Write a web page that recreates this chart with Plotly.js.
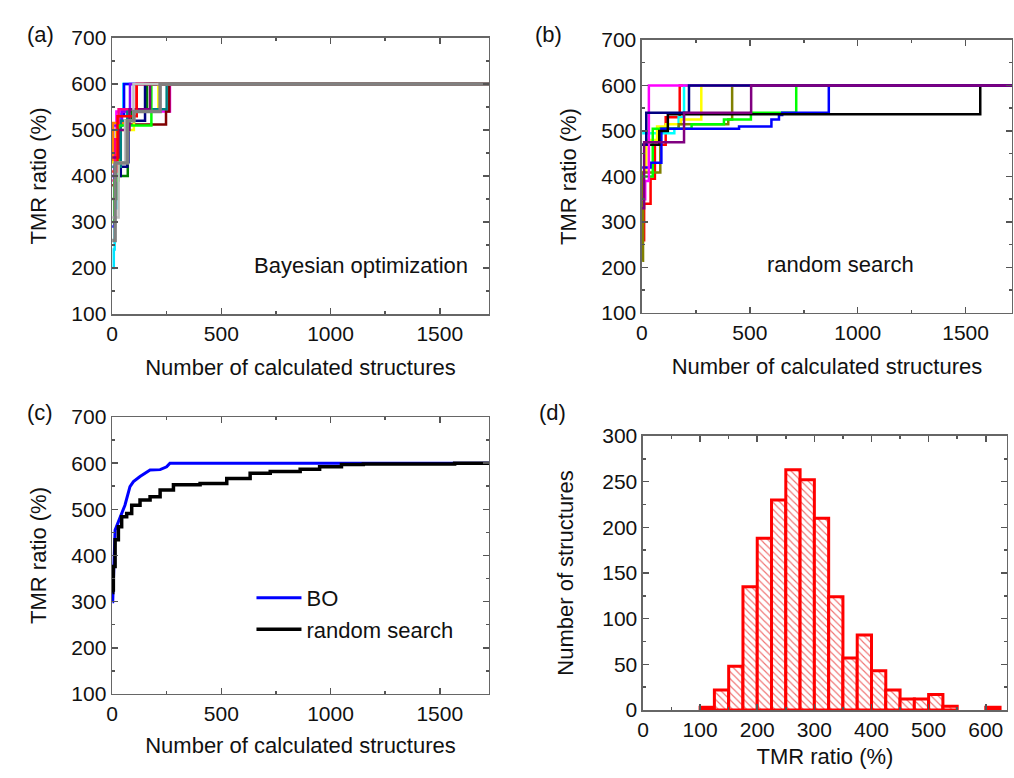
<!DOCTYPE html>
<html>
<head>
<meta charset="utf-8">
<script src="https://cdn.plot.ly/plotly-3.0.1.min.js"></script>
<style>html,body{margin:0;padding:0;background:#fff;}#chart{width:1014px;height:778px;}</style>
</head>
<body>
<div id="chart"></div>
<script>
// ---------- Panel (a): Bayesian optimization runs (best TMR so far) ----------
const boColors = ['#00e5ff','#0000ff','#ff00ff','#8000ff','#ff8000','#800000','#008000','#000080',
                  '#ffff00','#008080','#ff0080','#00ff00','#800080','#ff0000','#c0c0c0','#808080'];
const boX = [
  [1, 8, 12, 20, 35, 52, 1725],
  [1, 10, 25, 45, 55, 1725],
  [1, 12, 20, 265, 1725],
  [1, 5, 45, 82, 1725],
  [1, 4, 75, 113, 1725],
  [1, 15, 70, 247, 262, 1725],
  [1, 20, 72, 90, 160, 1725],
  [1, 40, 70, 75, 151, 1725],
  [1, 20, 100, 212, 1725],
  [1, 40, 70, 250, 1725],
  [1, 15, 30, 113, 1725],
  [1, 10, 30, 180, 1725],
  [1, 30, 80, 174, 1725],
  [1, 25, 113, 1725],
  [1, 30, 60, 98, 1725],
  [1, 14, 70, 100, 220, 1725]
];
const boY = [
  [200, 240, 330, 430, 540, 600, 600],
  [290, 420, 510, 535, 600, 600],
  [400, 480, 540, 600, 600],
  [450, 510, 540, 600, 600],
  [430, 515, 545, 600, 600],
  [380, 430, 512, 540, 600, 600],
  [350, 400, 520, 540, 600, 600],
  [400, 420, 430, 520, 600, 600],
  [430, 500, 540, 600, 600],
  [420, 520, 545, 600, 600],
  [390, 480, 545, 600, 600],
  [300, 390, 510, 600, 600],
  [440, 500, 545, 600, 600],
  [410, 530, 600, 600],
  [310, 430, 520, 600, 600],
  [260, 428, 520, 540, 600, 600]
];

// ---------- Panel (b): random search runs ----------
const rsColors = ['#ff0000','#00ffff','#ffff00','#808000','#00ff00','#0000ff','#000000','#ff00ff','#000080','#800080'];
const rsX = [
  [1, 10, 40, 60, 110, 175, 1725],
  [1, 150, 170, 195, 1725],
  [1, 20, 70, 110, 180, 275, 1725],
  [1, 5, 85, 170, 400, 418, 1725],
  [1, 50, 230, 380, 505, 715, 1725],
  [1, 40, 90, 450, 600, 635, 650, 866, 1725],
  [1, 80, 120, 1568, 1725],
  [1, 15, 32, 1725],
  [1, 20, 218, 1725],
  [1, 10, 195, 506, 1725]
];
const rsY = [
  [260, 340, 395, 470, 530, 600, 600],
  [495, 505, 530, 600, 600],
  [410, 480, 510, 515, 525, 600, 600],
  [215, 409, 505, 515, 525, 600, 600],
  [400, 505, 515, 525, 540, 600, 600],
  [420, 430, 505, 510, 525, 535, 540, 600, 600],
  [470, 500, 537, 600, 600],
  [350, 390, 600, 600],
  [470, 540, 600, 600],
  [330, 475, 540, 600, 600]
];

// ---------- Panel (c): averaged curves ----------
const boAvgX = [2, 3, 14, 37, 59, 82, 98, 128, 174, 220, 250, 265, 1725];
const boAvgY = [300, 300, 455, 484, 509, 549, 560, 571, 585, 586, 592, 600, 600];
const rsAvgX = [2, 3, 6, 14, 29, 44, 67, 90, 128, 174, 220, 281, 403, 525, 632, 724, 861, 950, 1050, 1150, 1568, 1725];
const rsAvgY = [320, 325, 376, 434, 462, 484, 491, 509, 520, 527, 542, 553, 556, 567, 578, 582, 587, 592, 597, 598, 600, 600];

// ---------- Panel (d): histogram of TMR ratio ----------
const binCenters = [112.5, 137.5, 162.5, 187.5, 212.5, 237.5, 262.5, 287.5, 312.5, 337.5, 362.5,
                    387.5, 412.5, 437.5, 462.5, 487.5, 512.5, 537.5, 612.5];
const binCounts  = [3, 22, 48, 135, 188, 230, 263, 252, 210, 124, 57,
                    82, 43, 22, 12, 12, 17, 4, 3];

const FONT = 'Liberation Sans, Arial, sans-serif';
const traces = [];
boX.forEach((xs, i) => traces.push({
  x: xs, y: boY[i], type: 'scatter', mode: 'lines', xaxis: 'x', yaxis: 'y',
  line: {shape: 'hv', color: boColors[i], width: i === boX.length - 1 ? 3.5 : 2.5}, showlegend: false
}));
rsX.forEach((xs, i) => traces.push({
  x: xs, y: rsY[i], type: 'scatter', mode: 'lines', xaxis: 'x2', yaxis: 'y2',
  line: {shape: 'hv', color: rsColors[i], width: 2.5}, showlegend: false
}));
traces.push({x: boAvgX, y: boAvgY, type: 'scatter', mode: 'lines', name: 'BO', xaxis: 'x3', yaxis: 'y3',
  line: {color: '#0000ff', width: 3}});
traces.push({x: rsAvgX, y: rsAvgY, type: 'scatter', mode: 'lines', name: 'random search', xaxis: 'x3', yaxis: 'y3',
  line: {color: '#000000', width: 3.5, shape: 'hv'}});
traces.push({x: binCenters, y: binCounts, type: 'bar', width: 25, xaxis: 'x4', yaxis: 'y4', showlegend: false,
  marker: {color: '#ffffff', line: {color: '#ff0000', width: 3},
           pattern: {shape: '\\', fgcolor: '#f07070', bgcolor: '#ffffff', size: 5, solidity: 0.22}}});

function ax(extra) {
  return Object.assign({
    showline: true, linecolor: '#666', linewidth: 1.5, mirror: 'ticks',
    ticks: 'inside', ticklen: 6, tickwidth: 1.5, tickcolor: '#555',
    showgrid: false, zeroline: false,
    tickfont: {family: FONT, size: 21, color: '#111'},
    title: {font: {family: FONT, size: 22, color: '#111'}}
  }, extra);
}
const xTitle = 'Number of calculated structures';
const yTitle = 'TMR ratio (%)';
const tf = {family: FONT, size: 22, color: '#111'};

const layout = {
  width: 1014, height: 778,
  margin: {l: 0, r: 0, t: 0, b: 0},
  paper_bgcolor: '#ffffff', plot_bgcolor: '#ffffff',
  font: {family: FONT, size: 22, color: '#111'},
  showlegend: true,
  legend: {x: 0.248, y: 0.2584, xanchor: 'left', yanchor: 'top', bgcolor: 'rgba(0,0,0,0)',
           itemwidth: 45, tracegroupgap: 0,
           font: {family: FONT, size: 22, color: '#111'}},
  bargap: 0,
  xaxis: ax({domain: [0.1105, 0.4822], anchor: 'y', range: [0, 1725], tickvals: [0, 500, 1000, 1500],
             minor: {dtick: 250, tick0: 0, ticks: 'inside', ticklen: 3, tickcolor: '#555'},
             title: {text: xTitle, standoff: 16, font: tf}}),
  yaxis: ax({domain: [0.5964, 0.9512], anchor: 'x', range: [100, 700], dtick: 100,
             minor: {dtick: 50, ticks: 'inside', ticklen: 3, tickcolor: '#555'},
             title: {text: yTitle, standoff: 18, font: tf}}),
  xaxis2: ax({domain: [0.6331, 0.998], anchor: 'y2', range: [0, 1715], tickvals: [0, 500, 1000, 1500],
             minor: {dtick: 250, tick0: 0, ticks: 'inside', ticklen: 3, tickcolor: '#555'},
             title: {text: xTitle, standoff: 16, font: tf}}),
  yaxis2: ax({domain: [0.5977, 0.9486], anchor: 'x2', range: [100, 700], dtick: 100,
             minor: {dtick: 50, ticks: 'inside', ticklen: 3, tickcolor: '#555'},
             title: {text: yTitle, standoff: 18, font: tf}}),
  xaxis3: ax({domain: [0.1105, 0.4822], anchor: 'y3', range: [0, 1725], tickvals: [0, 500, 1000, 1500],
             minor: {dtick: 250, tick0: 0, ticks: 'inside', ticklen: 3, tickcolor: '#555'},
             title: {text: xTitle, standoff: 14, font: tf}}),
  yaxis3: ax({domain: [0.108, 0.464], anchor: 'x3', range: [100, 700], dtick: 100,
             minor: {dtick: 50, ticks: 'inside', ticklen: 3, tickcolor: '#555'},
             title: {text: yTitle, standoff: 18, font: tf}}),
  xaxis4: ax({domain: [0.6341, 0.993], anchor: 'y4', range: [0, 637], dtick: 100,
             minor: {dtick: 50, ticks: 'inside', ticklen: 3, tickcolor: '#555'},
             title: {text: 'TMR ratio (%)', standoff: 9, font: tf}}),
  yaxis4: ax({domain: [0.0874, 0.4396], anchor: 'x4', range: [0, 300], dtick: 50,
             minor: {dtick: 25, ticks: 'inside', ticklen: 3, tickcolor: '#555'},
             title: {text: 'Number of structures', standoff: 22, font: tf}}),
  annotations: [
    {text: '(a)', x: 25 / 1014, y: 1 - 20 / 778, xref: 'paper', yref: 'paper', showarrow: false, font: {size: 22}},
    {text: '(b)', x: 548 / 1014, y: 1 - 20 / 778, xref: 'paper', yref: 'paper', showarrow: false, font: {size: 22}},
    {text: '(c)', x: 25 / 1014, y: 1 - 412 / 778, xref: 'paper', yref: 'paper', showarrow: false, font: {size: 22}},
    {text: '(d)', x: 552 / 1014, y: 1 - 412 / 778, xref: 'paper', yref: 'paper', showarrow: false, font: {size: 22}},
    {text: 'Bayesian optimization', x: 361 / 1014, y: 1 - 265 / 778, xref: 'paper', yref: 'paper', showarrow: false, font: {size: 22}},
    {text: 'random search', x: 916 / 1014, y: 1 - 264 / 778, xref: 'paper', yref: 'paper', showarrow: false, font: {size: 22}}
  ]
};

Plotly.newPlot('chart', traces, layout, {staticPlot: true, displayModeBar: false});
</script>
</body>
</html>
